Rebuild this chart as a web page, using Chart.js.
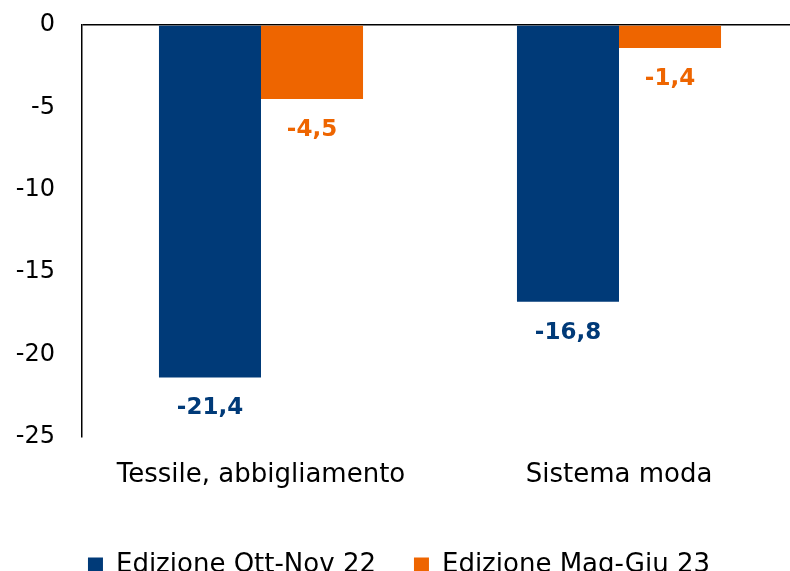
<!DOCTYPE html>
<html>
<head>
<meta charset="utf-8">
<script src="https://cdn.jsdelivr.net/npm/chart.js@4/dist/chart.umd.min.js"></script>
<style>
  html, body { margin: 0; padding: 0; background: #fff; overflow: hidden; }
  #wrap { width: 800px; height: 588px; }
</style>
</head>
<body>
<div id="wrap"><canvas id="chart"></canvas></div>
<script>
// ---------- data ----------
const categories = ['Tessile, abbigliamento', 'Sistema moda'];
const seriesNames = ['Edizione Ott-Nov 22', 'Edizione Mag-Giu 23'];
const ottNov22 = [-21.4, -16.8];
const magGiu23 = [-4.5, -1.4];
const yTicks = [0, -5, -10, -15, -20, -25];

const BLUE = '#003a78';
const ORANGE = '#ee6500';
const FONT = "'DejaVu Sans', sans-serif";

// ---------- value labels under bar ends ----------
const valueLabels = {
    id: 'valueLabels',
    afterDatasetsDraw(chart) {
        const c = chart.ctx;
        c.save();
        c.font = 'bold 23px ' + FONT;
        c.textAlign = 'center';
        c.textBaseline = 'middle';
        chart.data.datasets.forEach((ds, i) => {
            chart.getDatasetMeta(i).data.forEach((bar, j) => {
                c.fillStyle = ds.backgroundColor;
                c.fillText(ds.data[j].toFixed(1).replace('.', ','), bar.x, bar.y + 31);
            });
        });
        c.restore();
    }
};

new Chart(document.getElementById('chart'), {
    type: 'bar',
    data: {
        labels: categories,
        datasets: [
            { label: seriesNames[0], data: ottNov22, backgroundColor: BLUE },
            { label: seriesNames[1], data: magGiu23, backgroundColor: ORANGE }
        ]
    },
    options: {
        responsive: true,
        maintainAspectRatio: false,
        animation: false,
        categoryPercentage: 0.57,
        barPercentage: 1.0,
        layout: { padding: { top: 25, right: 2, left: 0, bottom: 0 } },
        plugins: {
            legend: {
                position: 'bottom',
                labels: {
                    color: '#000',
                    font: { family: FONT, size: 26 },
                    boxWidth: 15,
                    boxHeight: 15,
                    padding: 38
                }
            },
            tooltip: { enabled: false }
        },
        scales: {
            x: {
                grid: { display: false, drawTicks: false },
                border: { display: false },
                ticks: { color: '#000', font: { family: FONT, size: 26 }, padding: 23 }
            },
            y: {
                min: -25, max: 0,
                afterBuildTicks: axis => { axis.ticks = yTicks.map(v => ({ value: v })); },
                ticks: { color: '#000', font: { family: FONT, size: 24 }, padding: 0 },
                afterFit: s => { s.width = 82; },
                grid: {
                    drawTicks: true,
                    tickLength: 27,
                    tickColor: 'transparent',
                    color: ctx => ctx.tick && ctx.tick.value === 0 ? '#000' : 'transparent',
                    lineWidth: 1.5
                },
                border: { display: true, color: '#000', width: 1.5 }
            }
        }
    },
    plugins: [valueLabels]
});
</script>
</body>
</html>
